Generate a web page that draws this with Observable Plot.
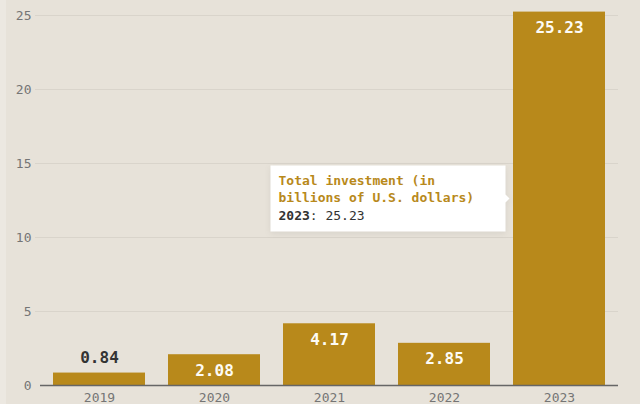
<!DOCTYPE html>
<html><head><meta charset="utf-8">
<script src="https://cdn.jsdelivr.net/npm/d3@7"></script>
<script src="https://cdn.jsdelivr.net/npm/@observablehq/plot@0.6"></script>
<style>
html,body{margin:0;padding:0;background:#e7e2d9;}
#chart{position:relative;width:640px;height:404px;overflow:hidden;}
#chart::before{content:"";position:absolute;left:0;top:0;width:6px;height:404px;background:#ece8e1;}
#chart svg{display:block;}
</style></head><body><div id="chart"></div>
<script>
const years = ["2019", "2020", "2021", "2022", "2023"];
const values = [0.84, 2.08, 4.17, 2.85, 25.23];
const yTicks = [0, 5, 10, 15, 20, 25];
const tipLabel = "Total investment (in\nbillions of U.S. dollars)\u00a0\u00a0\u00a0";
const tipYear = "2023";

const data = years.map((year, i) => ({year, value: values[i]}));
const gold = "#b8891b";
const font = "'DejaVu Sans Mono', monospace";

const plot = Plot.plot({
  width: 640, height: 404,
  marginLeft: 40, marginRight: 22, marginTop: 15, marginBottom: 19,
  style: {background: "transparent", fontFamily: font, overflow: "visible"},
  x: {domain: years, paddingInner: 0.2, paddingOuter: 0.1, label: null},
  y: {domain: [0, 25], label: null},
  marks: [
    Plot.ruleY(yTicks.slice(1), {stroke: "#d9d4cb", strokeWidth: 1, insetLeft: -5}),
    Plot.axisY(yTicks, {tickSize: 0, tickPadding: 9, fontSize: 13, fill: "#757575", label: null}),
    Plot.axisX({tickSize: 0, tickPadding: 7, fontSize: 13, fill: "#757575", label: null}),
    Plot.barY(data, {x: "year", y: "value", fill: gold}),
    Plot.ruleY([0], {stroke: "#666", strokeWidth: 1.5}),
    Plot.text(data.filter(d => d.value >= 1.5), {x: "year", y: "value", text: d => d.value.toFixed(2), fill: "#fdfbf5", fontWeight: "bold", fontSize: 16, dy: 16}),
    Plot.text(data.filter(d => d.value < 1.5), {x: "year", y: "value", text: d => d.value.toFixed(2), fill: "#333", fontWeight: "bold", fontSize: 16, dy: -15}),
    Plot.tip(data.filter(d => d.year === tipYear), {
      x: "year", y: d => d.value / 2, dx: -50, anchor: "right",
      title: d => `${tipLabel}\n${d.year}: ${d.value.toFixed(2)}`,
      fill: "white", stroke: "none", fontSize: 13, fontFamily: font,
      lineHeight: 1.35, textPadding: 8, pointerSize: 8, lineWidth: 40
    })
  ]
});
document.getElementById("chart").appendChild(plot);

// style the tooltip lines
const tspans = d3.select(plot).selectAll("g[aria-label=tip] text tspan");
tspans.each(function(_, i) {
  const t = d3.select(this);
  if (i < 2) {
    t.attr("fill", gold).attr("font-weight", "bold");
  } else {
    const txt = t.text();
    const idx = txt.indexOf(":");
    t.text(null).attr("fill", "#333");
    t.append("tspan").attr("font-weight", "bold").text(txt.slice(0, idx));
    t.append("tspan").text(txt.slice(idx));
  }
});
d3.select(plot).selectAll("g[aria-label=tip] path").style("filter", "drop-shadow(0 2px 3px #0001)");
</script></body></html>
